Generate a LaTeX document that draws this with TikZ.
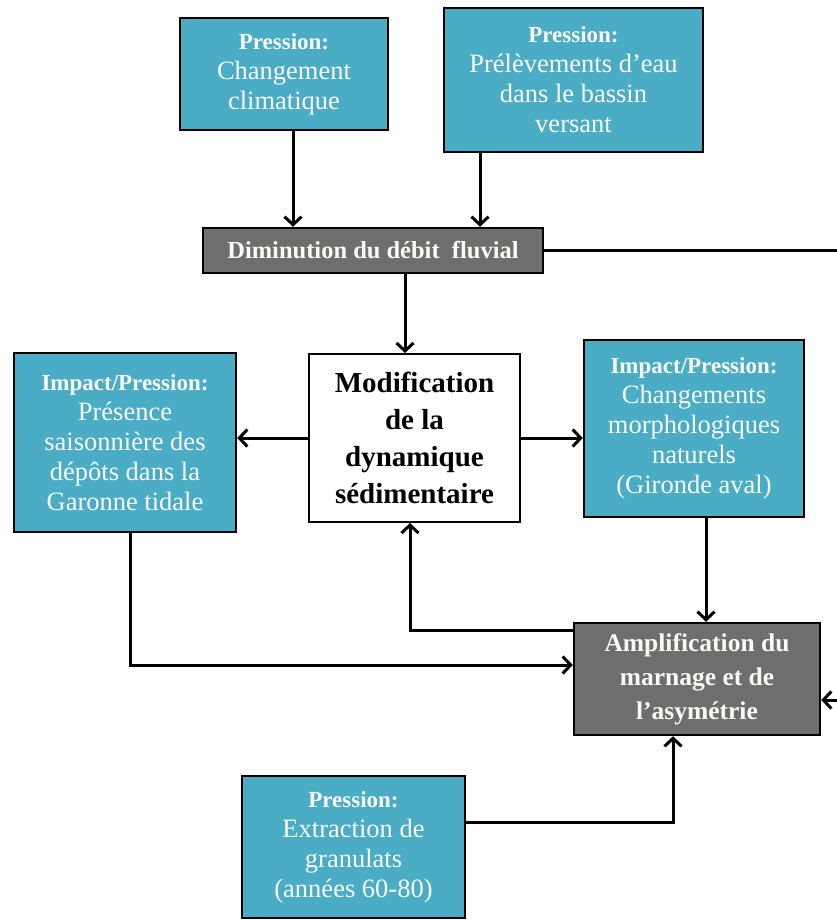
\documentclass[tikz,border=0pt]{standalone}
\usepackage{fontspec}
\setmainfont{Liberation Serif}
\usepackage{tikz}
\usetikzlibrary{arrows.meta, positioning, calc}
\usepackage{xcolor}
\definecolor{gir-teal}{RGB}{75,172,198}
\definecolor{gir-gray}{RGB}{110,110,110}
\definecolor{gir-text}{RGB}{250,250,244}
\newcommand{\entete}[1]{{\fontsize{23}{30}\selectfont\bfseries #1}}

\begin{document}
\begin{tikzpicture}[
    x=1pt, y=-1pt,
    %% Pression / impact box
    pbox/.style = {rectangle, draw=black, line width=2.5pt, fill=gir-teal,
                   text=gir-text, align=center, inner sep=2pt,
                   font=\fontsize{26.5}{30}\selectfont},
    %% Grey state box
    gbox/.style = {rectangle, draw=black, line width=2.5pt, fill=gir-gray,
                   text=gir-text, align=center, inner sep=2pt,
                   font=\fontsize{25.5}{34}\selectfont\bfseries},
    %% White central box
    wbox/.style = {rectangle, draw=black, line width=2pt, fill=white,
                   align=center, inner sep=2pt,
                   font=\fontsize{29}{37}\selectfont\bfseries},
    ln/.style   = {line width=3pt},
    arr/.style  = {ln, -{Straight Barb[length=8pt, width=17pt, line width=3pt]}},
]
\useasboundingbox (0,0) rectangle (837,921);

%% ---- Row 1: pressions ----
\node[pbox, minimum width=208, minimum height=112] (pclim) at (284,74)
    {\entete{Pression:}\\Changement\\climatique};
\node[pbox, minimum width=259, minimum height=144] (pprel) at (573.5,80)
    {\entete{Pression:}\\Prélèvements d’eau\\dans le bassin\\versant};

%% ---- Row 2: debit ----
\node[gbox, minimum width=340, minimum height=45, font=\fontsize{24.5}{26}\selectfont\bfseries]
    (dimin) at (373,250.5) {Diminution du débit\ \ fluvial};

\draw[arr] ([xshift=9pt]pclim.south)    -- ([xshift=9pt]pclim.south |- dimin.north);
\draw[arr] ([xshift=-93.5pt]pprel.south) -- ([xshift=-93.5pt]pprel.south |- dimin.north);

%% ---- Row 3: dynamique + impacts ----
\node[wbox, minimum width=211, minimum height=168] (modif) at (414.5,438)
    {Modification\\de la\\dynamique\\sédimentaire};
\node[pbox, minimum width=222, minimum height=179] (impg) at (125,442.5)
    {\entete{Impact/Pression:}\\Présence\\saisonnière des\\dépôts dans la\\Garonne tidale};
\node[pbox, minimum width=220, minimum height=177] (impd) at (694,428.5)
    {\entete{Impact/Pression:}\\Changements\\morphologiques\\naturels\\(Gironde aval)};

\draw[arr] ([xshift=32pt]dimin.south) -- ([xshift=32pt]dimin.south |- modif.north);
\draw[arr] (modif.west) -- (modif.west -| impg.east);
\draw[arr] (modif.east) -- (modif.east -| impd.west);

%% ---- Row 4: amplification ----
\node[gbox, minimum width=246, minimum height=112] (ampl) at (697,679)
    {Amplification du\\marnage et de\\l’asymétrie};

\draw[arr] ([xshift=12pt]impd.south) -- ([xshift=12pt]impd.south |- ampl.north);
\draw[arr] ([yshift=-9pt]ampl.north west) -| ([xshift=-4.5pt]modif.south);
\draw[arr] ([xshift=5pt]impg.south) |- ([yshift=14pt]ampl.west);

%% ---- Row 5: granulats ----
\node[pbox, minimum width=223, minimum height=142] (extr) at (353.5,847)
    {\entete{Pression:}\\Extraction de\\granulats\\(années 60-80)};

\draw[arr] ([yshift=25pt]extr.east) -| ([xshift=-24pt]ampl.south);

%% ---- border links (continue outside) ----
\coordinate (bordh) at (837,250.5);
\coordinate (bordb) at (837,700);
\draw[ln]  (dimin.east) -- (bordh);
\draw[arr] (bordb) -- (bordb -| ampl.east);

\end{tikzpicture}
\end{document}
